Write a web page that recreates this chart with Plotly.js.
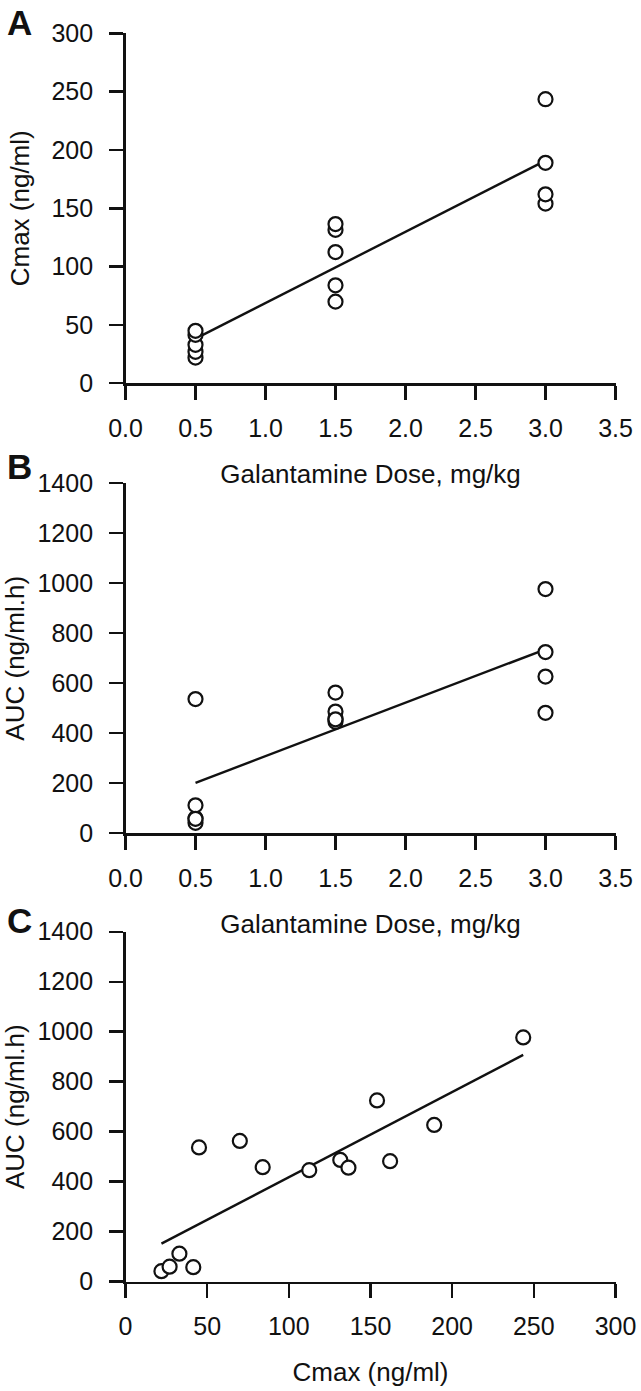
<!DOCTYPE html>
<html>
<head>
<meta charset="utf-8">
<script src="https://cdn.plot.ly/plotly-3.0.1.min.js"></script>
<style>
  html, body { margin: 0; padding: 0; background: #ffffff; }
  #chart { width: 641px; height: 1391px; }
</style>
</head>
<body>
<div id="chart"></div>
<script>
// ---- data ----
const dose = [0.5, 0.5, 0.5, 0.5, 0.5, 1.5, 1.5, 1.5, 1.5, 1.5, 3.0, 3.0, 3.0, 3.0];
const cmax = [22, 27, 33, 41.5, 45, 70, 84, 112.5, 131.5, 136.5, 154, 162, 189, 243.5];
const auc  = [42, 60, 112, 58, 537, 563, 458, 446, 487, 456, 725, 482, 627, 977];

const doseTicks = [0, 0.5, 1, 1.5, 2, 2.5, 3, 3.5];
const cmaxTicks = [0, 50, 100, 150, 200, 250, 300];
const aucTicks  = [0, 200, 400, 600, 800, 1000, 1200, 1400];

const panelLetters = ['A', 'B', 'C'];
const doseTitle = 'Galantamine Dose, mg/kg';
const cmaxTitle = 'Cmax (ng/ml)';
const aucTitle  = 'AUC (ng/ml.h)';

// least-squares fit line over the data's x extent
function fitLine(xs, ys) {
  const n = xs.length;
  const mx = xs.reduce((a, b) => a + b, 0) / n;
  const my = ys.reduce((a, b) => a + b, 0) / n;
  let sxy = 0, sxx = 0;
  for (let i = 0; i < n; i++) { sxy += (xs[i] - mx) * (ys[i] - my); sxx += (xs[i] - mx) ** 2; }
  const b = sxy / sxx, a = my - b * mx;
  const x0 = Math.min(...xs), x1 = Math.max(...xs);
  return { x: [x0, x1], y: [a + b * x0, a + b * x1] };
}

const H = 1391, W = 641;
const xDom = [125.5 / W, 615.5 / W];
function yDom(topPx, botPx) { return [(H - botPx) / H, (H - topPx) / H]; }

const FONT = 'Liberation Sans, Arial, sans-serif';
const INK = '#111111';

const lineStyle = { color: INK, width: 2.4 };
const markerStyle = { symbol: 'circle', size: 14, color: '#ffffff', line: { color: INK, width: 2.2 } };

const fA = fitLine(dose, cmax);
const fB = fitLine(dose, auc);
const fC = fitLine(cmax, auc);

const traces = [
  { x: fA.x, y: fA.y, mode: 'lines', line: lineStyle, xaxis: 'x', yaxis: 'y', hoverinfo: 'skip' },
  { x: dose, y: cmax, mode: 'markers', marker: markerStyle, xaxis: 'x', yaxis: 'y' },
  { x: fB.x, y: fB.y, mode: 'lines', line: lineStyle, xaxis: 'x2', yaxis: 'y2', hoverinfo: 'skip' },
  { x: dose, y: auc, mode: 'markers', marker: markerStyle, xaxis: 'x2', yaxis: 'y2' },
  { x: fC.x, y: fC.y, mode: 'lines', line: lineStyle, xaxis: 'x3', yaxis: 'y3', hoverinfo: 'skip' },
  { x: cmax, y: auc, mode: 'markers', marker: markerStyle, xaxis: 'x3', yaxis: 'y3' }
];

function xAxis(anchor, ticks, title, fmt) {
  return {
    domain: xDom, anchor: anchor,
    range: [ticks[0], ticks[ticks.length - 1]],
    tickmode: 'array', tickvals: ticks,
    ticktext: ticks.map(v => fmt ? v.toFixed(1) : String(v)),
    showgrid: false, zeroline: false,
    showline: true, linecolor: INK, linewidth: 2.4,
    ticks: 'outside', ticklen: 14, tickwidth: 2.4, tickcolor: INK,
    ticklabelstandoff: 7,
    tickfont: { family: FONT, size: 25, color: INK },
    title: { text: title, font: { family: FONT, size: 26, color: INK }, standoff: 24 },
    fixedrange: true
  };
}
function yAxis(anchor, dom, ticks, title) {
  return {
    domain: dom, anchor: anchor,
    range: [ticks[0], ticks[ticks.length - 1]],
    tickmode: 'array', tickvals: ticks,
    showgrid: false, zeroline: false,
    showline: true, linecolor: INK, linewidth: 2.4,
    ticks: 'outside', ticklen: 14, tickwidth: 2.4, tickcolor: INK,
    ticklabelstandoff: 11,
    tickfont: { family: FONT, size: 25, color: INK },
    title: { text: title, font: { family: FONT, size: 26, color: INK }, standoff: 14 },
    fixedrange: true
  };
}

const letterY = [22, 466, 920];
const layout = {
  width: W, height: H,
  margin: { l: 0, r: 0, t: 0, b: 0 },
  paper_bgcolor: '#ffffff', plot_bgcolor: '#ffffff',
  showlegend: false,
  xaxis:  xAxis('y',  doseTicks, doseTitle, true),
  yaxis:  yAxis('x',  yDom(33.3, 383.3), cmaxTicks, cmaxTitle),
  xaxis2: xAxis('y2', doseTicks, doseTitle, true),
  yaxis2: yAxis('x2', yDom(483.3, 833.3), aucTicks, aucTitle),
  xaxis3: xAxis('y3', cmaxTicks, cmaxTitle, false),
  yaxis3: yAxis('x3', yDom(931.7, 1281.7), aucTicks, aucTitle),
  annotations: panelLetters.map((t, i) => ({
    text: '<b>' + t + '</b>', xref: 'paper', yref: 'paper',
    x: 19 / W, y: (H - letterY[i]) / H, xanchor: 'center', yanchor: 'middle',
    showarrow: false, font: { family: FONT, size: 35, color: INK }
  }))
};

Plotly.newPlot('chart', traces, layout, { staticPlot: true, displayModeBar: false });
</script>
</body>
</html>
